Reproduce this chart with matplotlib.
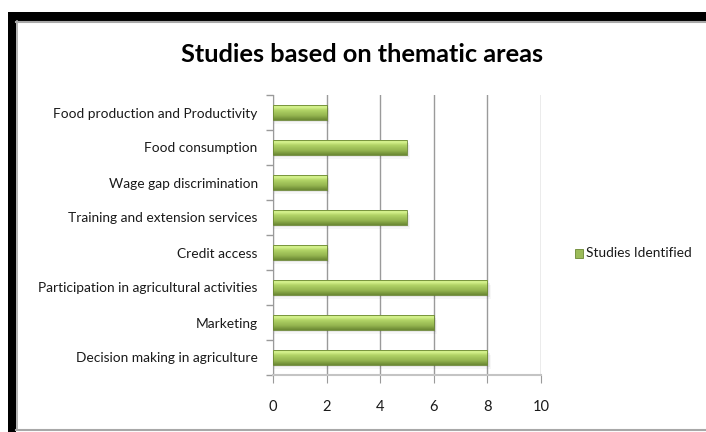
import numpy as np
import matplotlib.pyplot as plt
from matplotlib.patches import Rectangle
from matplotlib.colors import LinearSegmentedColormap

plt.rcParams['font.family'] = ['Lato', 'DejaVu Sans']

themes = [
    "Decision making in agriculture",
    "Marketing",
    "Participation in agricultural activities",
    "Credit access",
    "Training and extension services",
    "Wage gap discrimination",
    "Food consumption",
    "Food production and Productivity",
]
studies = [8, 6, 8, 2, 5, 2, 5, 2]
series_name = "Studies Identified"

W, H = 706, 432
fig = plt.figure(figsize=(W / 100, H / 100), dpi=100)

# black band along the top and the left, gray line inside it
fig.patches.append(Rectangle((8 / W, 1 - 21 / H), 1, 9 / H, transform=fig.transFigure,
                             facecolor="black", edgecolor="none", zorder=-3))
fig.patches.append(Rectangle((8 / W, 0), 8 / W, 1 - 12 / H, transform=fig.transFigure,
                             facecolor="black", edgecolor="none", zorder=-3))
fig.lines.append(plt.Line2D([16 / W, 1], [1 - 21.5 / H] * 2, transform=fig.transFigure,
                            color="#a8a8a8", lw=1.5))
fig.lines.append(plt.Line2D([16.5 / W] * 2, [2 / H, 1 - 21 / H], transform=fig.transFigure,
                            color="#a8a8a8", lw=1.2))
fig.lines.append(plt.Line2D([16 / W, 1], [2 / H] * 2, transform=fig.transFigure,
                            color="#a8a8a8", lw=1.5))

ax = fig.add_axes([273 / W, 1 - 375 / H, 268 / W, 280 / H])
y = np.arange(len(themes))
h = 0.41

green = LinearSegmentedColormap.from_list(
    "bar", [(0, "#c2e27a"), (0.12, "#d8f490"), (0.35, "#b0d265"),
            (0.7, "#94b550"), (1, "#6b8833")])
grad = np.linspace(0, 1, 64).reshape(-1, 1)

for yi, v in zip(y, studies):
    # soft shadow under each bar
    for k, a in enumerate([0.10, 0.06, 0.03]):
        off = 0.04 * (k + 1)
        ax.add_patch(Rectangle((0, yi - h / 2 - off), v + off, h, facecolor="black",
                               alpha=a, edgecolor="none", zorder=2))
    ax.imshow(grad, cmap=green, aspect="auto", extent=(0, v, yi - h / 2, yi + h / 2),
              origin="upper", zorder=3)
    ax.add_patch(Rectangle((0, yi - h / 2), v, h, facecolor="none",
                           edgecolor="#6b8833", lw=0.6, zorder=4))

ax.set_xlim(0, 10)
ax.set_ylim(-0.5, len(themes) - 0.5)
ax.set_xticks(range(0, 11, 2))
ax.set_yticks(y)
ax.set_yticklabels(themes)
ax.set_yticks(np.arange(-0.5, len(themes), 1), minor=True)
ax.tick_params(axis="y", which="major", length=0, pad=11, labelsize=9.9, colors="#1a1a1a")
ax.tick_params(axis="y", which="minor", length=5, color="#9a9a9a", width=1)
ax.tick_params(axis="x", length=6, color="#9a9a9a", pad=12, labelsize=10.5, labelcolor="#1a1a1a")
ax.grid(axis="x", color="#9a9a9a", lw=1)
ax.set_axisbelow(True)
for s in ["top", "right"]:
    ax.spines[s].set_visible(False)
ax.spines["left"].set_color("#9a9a9a")
ax.spines["bottom"].set_color("#c4c4c4")
ax.spines["bottom"].set_linewidth(1.5)

fig.text(362 / W, 1 - 54 / H, "Studies based on thematic areas", ha="center", va="center",
         fontsize=18.3, fontweight="bold")

# legend entry
lg = fig.add_axes([0, 0, 1, 1], zorder=-1)
lg.axis("off")
lg.set_xlim(0, 1)
lg.set_ylim(0, 1)
lg.add_patch(Rectangle((575 / W, 1 - 258 / H), 8 / W, 9 / H, facecolor="#9bbb59",
                       edgecolor="#6b8833", lw=0.6))
lg.text(586 / W, 1 - 253 / H, series_name, va="center", fontsize=9.9, color="#1a1a1a")

fig.savefig("out.png", dpi=100)
